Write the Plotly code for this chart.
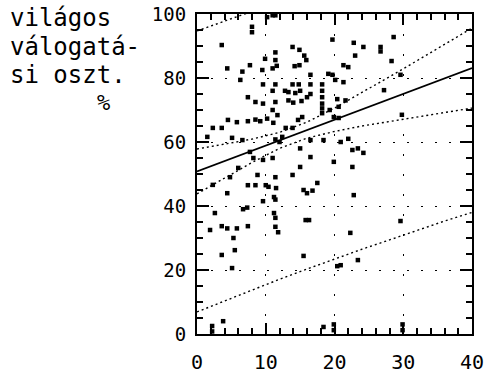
import plotly.graph_objects as go

# Observations: x value and "világos válogatási osztály" percentage
obs_x = [
    8.0, 8.0, 10.2, 11.0, 11.4, 3.6, 9.9, 11.4, 11.4, 11.6,
    13.9, 14.9, 15.6, 15.9, 14.9, 14.2, 19.7, 22.8, 24.2, 23.0,
    28.6, 26.7, 26.7, 28.3,
    4.4, 7.7, 6.6, 9.5, 11.0, 21.3, 22.0, 19.7, 19.1, 29.6, 16.5,
    6.3, 9.6, 11.4, 13.9, 14.8, 16.5, 20.1, 21.3, 18.2, 18.2, 18.2, 18.2, 18.2,
    11.0, 12.8, 15.0, 16.5, 13.3, 14.3, 27.2,
    7.4, 8.5, 11.4, 11.0, 9.6, 20.4, 21.6, 13.3, 14.0, 16.0, 20.6, 15.2,
    4.5, 5.8, 7.4, 8.5, 9.2, 10.2, 11.1, 2.3, 3.6, 1.5, 5.1, 12.4, 11.4,
    14.7, 13.9, 12.9, 19.9, 20.6, 16.5, 18.4, 20.9, 22.0, 11.7, 15.3, 18.2, 19.3, 29.8,
    6.6, 7.7, 8.2, 9.6, 11.0, 15.0, 23.4, 22.6, 24.2, 16.5, 19.9, 22.6, 15.0, 6.0, 12.0,
    8.8, 11.4, 4.8, 2.3, 7.4, 8.5, 10.0, 10.4, 11.5, 4.4, 11.2, 13.9, 17.5, 15.5, 16.0, 16.8, 22.8, 9.6, 11.4,
    2.6, 6.7, 7.3, 11.2, 11.4, 1.9, 3.6, 4.4, 5.8, 7.4, 11.4, 11.8, 5.3, 15.8, 16.3, 29.6, 22.3,
    5.5, 3.6, 5.1, 15.5, 23.4, 20.4, 20.9,
    3.8, 2.2, 2.2, 18.4, 19.9, 19.9, 29.9, 29.9,
]
obs_y = [
    96.0, 94.3, 99.0, 99.6, 99.6, 90.3, 86.0, 88.0, 85.6, 83.8,
    89.7, 88.8, 87.0, 85.6, 84.0, 83.7, 92.0, 91.0, 89.7, 87.0,
    92.8, 89.7, 88.3, 85.3,
    83.0, 84.0, 82.0, 82.5, 83.0, 84.0, 83.4, 81.0, 81.3, 81.0, 81.0,
    79.4, 78.0, 78.0, 78.0, 78.0, 78.0, 79.4, 78.7, 78.0, 76.0, 74.0, 72.0, 70.5,
    76.0, 76.0, 76.0, 75.0, 75.6, 75.3, 76.2,
    74.0, 72.5, 72.5, 70.0, 72.0, 73.4, 73.0, 73.0, 72.3, 74.0, 71.0, 72.8,
    66.9, 66.2, 66.5, 67.0, 66.5, 67.3, 66.0, 64.4, 64.4, 61.6, 61.3, 61.6, 60.8,
    66.9, 64.4, 64.4, 67.8, 67.5, 60.6, 60.6, 60.0, 61.0, 68.4, 67.8, 69.0, 70.0, 68.5,
    60.6, 56.9, 55.0, 54.4, 55.0, 58.0, 58.0, 57.5, 56.6, 55.3, 53.8, 52.2, 52.2, 51.9, 60.0,
    49.7, 49.0, 49.0, 46.6, 46.5, 46.5, 46.5, 46.0, 45.6, 44.0, 42.8, 49.7, 47.2, 45.0, 44.0, 44.8, 43.4, 41.5, 42.0,
    37.8, 39.0, 39.5, 37.8, 36.3, 32.5, 33.7, 33.0, 33.0, 33.7, 33.5, 31.8, 30.0, 35.6, 35.6, 35.3, 31.6,
    26.2, 24.7, 20.6, 24.4, 23.1, 21.2, 21.5,
    4.0, 2.5, 0.8, 2.2, 3.0, 1.2, 3.0, 1.2,
]

# Fitted regression line (end points)
fit_x = [0, 40]
fit_y = [50.8, 83.1]

# Confidence and prediction bands sampled along x
band_x = [0, 4, 8, 12, 16, 20, 24, 28, 32, 36, 40]
conf_hi = [57.8, 59.3, 60.9, 63.0, 66.2, 70.6, 75.4, 80.4, 85.4, 90.5, 95.6]
conf_lo = [43.8, 48.8, 53.6, 58.0, 61.2, 63.3, 65.0, 66.4, 67.8, 69.3, 70.6]
pred_hi = [94.7, 97.7, 100.8, 103.9, 107.1, 110.5, 113.9, 117.4, 120.9, 124.6, 128.2]
pred_lo = [6.9, 10.3, 13.8, 17.1, 20.3, 23.5, 26.5, 29.4, 32.4, 35.3, 38.0]

# Axis ranges and tick steps
x_range = [0, 40]
y_range = [0, 100]
x_major, x_minor = 10, 2
y_major, y_minor = 20, 5

# Left-side caption, one entry per printed line
caption_lines = ["világos", "válogatá-", "si oszt."]
caption_unit = "%"

MONO = "DejaVu Sans Mono"
INK = "black"

fig = go.Figure()

dotted = dict(color=INK, width=1.4, dash="2px,3px")
for ys in (pred_hi, conf_hi, conf_lo, pred_lo):
    fig.add_trace(go.Scatter(x=band_x, y=ys, mode="lines", line=dotted,
                             hoverinfo="skip", showlegend=False))

fig.add_trace(go.Scatter(x=fit_x, y=fit_y, mode="lines",
                         line=dict(color=INK, width=1.6), showlegend=False))

fig.add_trace(go.Scatter(x=obs_x, y=obs_y, mode="markers",
                         marker=dict(symbol="square", size=4.5, color=INK,
                                     line=dict(width=0)),
                         showlegend=False))

# Plot area in pixels: left 197, right 472, top 14, bottom 334
L, R, T, B = 197, 12, 14, 42
W, H = 484, 376
pw, ph = W - L - R, H - T - B


def px(xp):
    return (xp - L) / pw


def py(yp):
    return (H - B - yp) / ph


line_centres = [18.5, 47.0, 75.5]
for txt, yc in zip(caption_lines, line_centres):
    fig.add_annotation(text=txt, xref="paper", yref="paper",
                       x=px(8), y=py(yc), xanchor="left", yanchor="middle",
                       showarrow=False, font=dict(family=MONO, size=24, color=INK))
fig.add_annotation(text=caption_unit, xref="paper", yref="paper",
                   x=px(103), y=py(103), xanchor="center", yanchor="middle",
                   showarrow=False, font=dict(family=MONO, size=22, color=INK))

axis_common = dict(
    showline=True, linecolor=INK, linewidth=2, mirror="allticks",
    ticks="inside", tickcolor=INK, tickwidth=2,
    showgrid=True, gridcolor=INK, gridwidth=1.2,
    zeroline=False, fixedrange=True, automargin=False,
    tickmode="linear", tick0=0, layer="above traces",
    ticklabeloverflow="allow",
)

fig.update_xaxes(
    range=x_range, dtick=x_major,
    ticklen=11, griddash="2px,18px",
    minor=dict(tickmode="linear", tick0=0, dtick=x_minor, ticklen=6,
               ticks="inside", tickcolor=INK, tickwidth=2, showgrid=False),
    tickfont=dict(family=MONO, size=20, color=INK), ticklabelstandoff=9,
    **axis_common,
)
fig.update_yaxes(
    range=y_range, dtick=y_major,
    ticklen=12, griddash="2px,12px",
    minor=dict(tickmode="linear", tick0=0, dtick=y_minor, ticklen=6,
               ticks="inside", tickcolor=INK, tickwidth=2, showgrid=False),
    tickfont=dict(family=MONO, size=19, color=INK), ticklabelstandoff=5,
    **axis_common,
)

fig.update_layout(
    width=W, height=H,
    margin=dict(l=L, r=R, t=T, b=B, autoexpand=False),
    paper_bgcolor="white", plot_bgcolor="white",
    showlegend=False,
)

fig.write_html("out.html")
